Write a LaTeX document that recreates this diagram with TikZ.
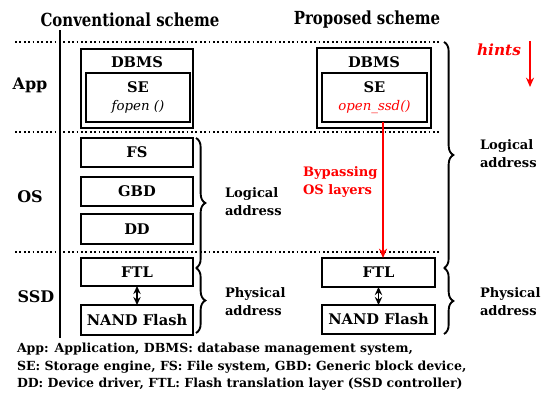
\documentclass[tikz,border=0pt]{standalone}
\usepackage{fontspec}
\setmainfont{DejaVu Serif}
\newfontfamily\ttlfont{DejaVu Serif}[FakeStretch=0.83]
\usetikzlibrary{decorations.pathreplacing,arrows.meta,calc}
\begin{document}
\begin{tikzpicture}[x=0.75pt,y=-0.75pt,
  every node/.style={inner sep=0pt, outer sep=0pt},
  box/.style={draw, line width=1.4pt, align=center, font=\fontsize{11}{13}\selectfont\bfseries},
  lbl/.style={font=\fontsize{12}{14}\selectfont\bfseries},
  side/.style={align=left, anchor=west, font=\fontsize{9.8}{13.5}\selectfont\bfseries},
  ttl/.style={font=\ttlfont\fontsize{13.5}{16}\selectfont\bfseries},
  sep/.style={dotted, line width=1.3pt},
  brc/.style={decorate, decoration={brace, amplitude=7pt}, line width=1.4pt},
  dbl/.style={{Stealth[length=6pt,width=5.5pt]}-{Stealth[length=6pt,width=5.5pt]}, line width=1.4pt},
  redarr/.style={-{Stealth[length=7pt,width=6pt]}, red, line width=1.4pt}]
\useasboundingbox (0,0) rectangle (543,395);
% titles
\node[ttl] (t1) at (130,20) {Conventional scheme};
\node[ttl] (t2) at (367,20) {Proposed scheme};
% axis line and separators
\coordinate (vtop) at (60,30); \coordinate (vbot) at (60,338);
\draw[line width=1.4pt] (vtop) -- (vbot);
\coordinate (s1a) at (15,42);  \coordinate (s1b) at (441,42);
\coordinate (s2a) at (15,132); \coordinate (s2b) at (441,132);
\coordinate (s3a) at (15,252); \coordinate (s3b) at (441,252);
\draw[sep] (s1a) -- (s1b);
\draw[sep] (s2a) -- (s2b);
\draw[sep] (s3a) -- (s3b);
% row labels
\node[lbl] (app) at (30,85) {App};
\node[lbl] (os) at (30,197) {OS};
\node[lbl] (ssd) at (36,297) {SSD};
% conventional
\node[box, minimum width=112*0.75pt, minimum height=79*0.75pt] (dbms1) at (137,88.5) {};
\node[box, draw=none] (dbmst1) at (137,62) {DBMS};
\node[box, minimum width=104*0.75pt, minimum height=49*0.75pt] (se1) at (138,97.5) {SE\\[1pt]{\fontsize{10}{12}\selectfont\mdseries\itshape fopen ()}};
\node[box, minimum width=112*0.75pt, minimum height=29*0.75pt] (fs) at (137,152.5) {FS};
\node[box, minimum width=112*0.75pt, minimum height=29*0.75pt] (gbd) at (137,191.5) {GBD};
\node[box, minimum width=112*0.75pt, minimum height=30*0.75pt] (dd) at (137,229) {DD};
\node[box, minimum width=112*0.75pt, minimum height=28*0.75pt] (ftl1) at (137,272) {FTL};
\node[box, minimum width=112*0.75pt, minimum height=30*0.75pt] (nand1) at (137,320) {NAND Flash};
\draw[dbl] (ftl1) -- (nand1);
% proposed
\node[box, minimum width=114*0.75pt, minimum height=80*0.75pt] (dbms2) at (374,88) {};
\node[box, draw=none] (dbmst2) at (374,62) {DBMS};
\node[box, minimum width=105*0.75pt, minimum height=49*0.75pt] (se2) at (374.5,97.5) {SE\\[1pt]{\fontsize{10}{12}\selectfont\mdseries\itshape\color{red}open\_ssd()}};
\node[box, minimum width=113*0.75pt, minimum height=29*0.75pt] (ftl2) at (378.5,272.5) {FTL};
\node[box, minimum width=113*0.75pt, minimum height=29*0.75pt] (nand2) at (378.5,319.5) {NAND Flash};
\draw[dbl] (ftl2) -- (nand2);
\coordinate (bx) at (383,0);
\draw[redarr] (se2.south -| bx) -- (ftl2.north -| bx);
\node[side, text=red] (bypass) at (303,182) {Bypassing\\OS layers};
% hints
\node[text=red, font=\fontsize{11.5}{14}\selectfont\bfseries\itshape] (hints) at (499,50) {hints};
\coordinate (ha) at (530,41); \coordinate (hb) at (530,87);
\draw[redarr] (ha) -- (hb);
% braces left
\coordinate (b1a) at (196,138); \coordinate (b1b) at (196,268);
\draw[brc] (b1a) -- (b1b);
\coordinate (b2a) at (196,268); \coordinate (b2b) at (196,333);
\draw[brc] (b2a) -- (b2b);
\node[side] (log1) at (225,202) {Logical\\address};
\node[side] (phy1) at (225,302) {Physical\\address};
% braces right
\coordinate (b3a) at (444,42); \coordinate (b3b) at (444,268);
\draw[brc] (b3a) -- (b3b);
\coordinate (b4a) at (444,268); \coordinate (b4b) at (444,334);
\draw[brc] (b4a) -- (b4b);
\node[side] (log2) at (480,154) {Logical\\address};
\node[side] (phy2) at (480,302) {Physical\\address};
% footer
\node[anchor=west, align=left, font=\fontsize{9.4}{13.2}\selectfont\bfseries] (foot) at (17,367) {App: Application, DBMS: database management system,\\SE: Storage engine, FS: File system, GBD: Generic block device,\\DD: Device driver, FTL: Flash translation layer (SSD controller)};
\end{tikzpicture}
\end{document}
